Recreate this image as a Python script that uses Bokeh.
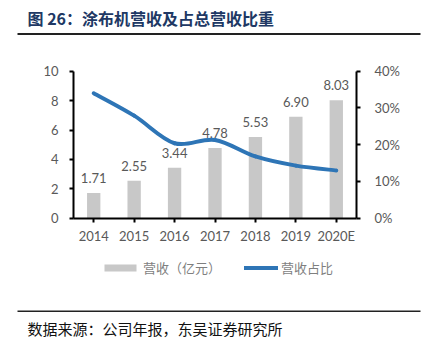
from bokeh.plotting import figure
from bokeh.models import (Range1d, LinearAxis, FixedTicker, PrintfTickFormatter,
                          Legend, LegendItem, ColumnDataSource)
from bokeh.core.properties import value
from bokeh.embed import file_html
from bokeh.resources import INLINE

years = ["2014", "2015", "2016", "2017", "2018", "2019", "2020E"]
revenue = [1.71, 2.55, 3.44, 4.78, 5.53, 6.90, 8.03]
share_pct = [34.0, 27.9, 20.4, 21.3, 16.8, 14.3, 13.0]
revenue_labels = ["1.71", "2.55", "3.44", "4.78", "5.53", "6.90", "8.03"]
left_ticks = [0, 2, 4, 6, 8, 10]
right_ticks = [0, 10, 20, 30, 40]

title_text = "图 26：涂布机营收及占总营收比重"
source_text = "数据来源：公司年报，东吴证券研究所"
legend_bar = "营收（亿元）"
legend_line = "营收占比"

W, H = 423, 352
# plot area (pixels on the page)
AX_L, AX_R, AX_T, AX_B = 73.0, 356.0, 70.7, 217.7
NCAT = len(years)
YMAX_L, YMAX_R = 10.0, 40.0

NUM_FONT = "Lato"
CJK_FONT = "Noto Sans CJK SC"
TICK_COLOR = "#595959"
BAR_COLOR = "#C8C8C8"
LINE_COLOR = "#2E75B6"

ux = NCAT / (AX_R - AX_L)        # data units per pixel (x)
uy = YMAX_L / (AX_B - AX_T)      # data units per pixel (left y)

def xd(px):
    return (px - AX_L) * ux

def yd(py):
    return (AX_B - py) * uy

p = figure(width=W, height=H, x_range=Range1d(xd(0), xd(W)), y_range=Range1d(yd(H), yd(0)),
           output_backend="svg", toolbar_location=None,
           min_border=0, x_axis_type=None, y_axis_type=None)
p.title.visible = False
p.extra_y_ranges = {"pct": Range1d(yd(H) * YMAX_R / YMAX_L, yd(0) * YMAX_R / YMAX_L)}
p.outline_line_color = None
p.xgrid.grid_line_color = None
p.ygrid.grid_line_color = None
p.background_fill_color = "white"
p.border_fill_color = "white"

xc = [i + 0.5 for i in range(NCAT)]
src = ColumnDataSource(dict(x=xc, rev=revenue, lab=revenue_labels))
bars = p.vbar(x="x", top="rev", width=0.33, source=src, fill_color=BAR_COLOR, line_color=None)
p.text(x="x", y="rev", text="lab", source=src, text_align="center", text_baseline="bottom",
       y_offset=-10, text_font=value(NUM_FONT), text_font_size="13px", text_color=TICK_COLOR)

# smooth curve (Catmull-Rom style bezier segments through the data points)
ys = share_pct
n = len(xc)
seg = dict(x0=[], y0=[], x1=[], y1=[], cx0=[], cy0=[], cx1=[], cy1=[])
for i in range(n - 1):
    xa, ya = xc[i], ys[i]
    xb, yb = xc[i + 1], ys[i + 1]
    xp, yp = (xc[i - 1], ys[i - 1]) if i > 0 else (xa, ya)
    xn, yn = (xc[i + 2], ys[i + 2]) if i + 2 < n else (xb, yb)
    seg["x0"].append(xa); seg["y0"].append(ya)
    seg["x1"].append(xb); seg["y1"].append(yb)
    seg["cx0"].append(xa + (xb - xp) / 6); seg["cy0"].append(ya + (yb - yp) / 6)
    seg["cx1"].append(xb - (xn - xa) / 6); seg["cy1"].append(yb - (yn - ya) / 6)
curve = p.bezier(source=ColumnDataSource(seg), x0="x0", y0="y0", x1="x1", y1="y1",
                 cx0="cx0", cy0="cy0", cx1="cx1", cy1="cy1", y_range_name="pct",
                 line_color=LINE_COLOR, line_width=4, line_cap="round")

def style_axis(ax):
    ax.axis_line_color = "black"
    ax.axis_line_width = 2
    ax.major_tick_line_color = "black"
    ax.major_tick_line_width = 2
    ax.major_tick_in = 0
    ax.major_tick_out = 4
    ax.minor_tick_line_color = None
    ax.major_label_text_font = NUM_FONT
    ax.major_label_text_font_size = "13px"
    ax.major_label_text_color = TICK_COLOR

xaxis = LinearAxis(ticker=FixedTicker(ticks=xc), fixed_location=0, bounds=(0, NCAT),
                   major_label_overrides={x: y for x, y in zip(xc, years)})
style_axis(xaxis)
xaxis.major_label_standoff = 6
p.add_layout(xaxis, "below")

ly = LinearAxis(ticker=FixedTicker(ticks=left_ticks), fixed_location=0, bounds=(0, YMAX_L))
style_axis(ly)
ly.major_label_standoff = 11
p.add_layout(ly, "left")

ry = LinearAxis(y_range_name="pct", ticker=FixedTicker(ticks=right_ticks),
                formatter=PrintfTickFormatter(format="%d%%"), fixed_location=NCAT,
                bounds=(0, YMAX_R))
style_axis(ry)
ry.major_label_standoff = 14
p.add_layout(ry, "right")

# legends (screen location relative to the bottom-left of the page)
lg1 = Legend(items=[LegendItem(label=legend_bar, renderers=[bars])], location=(100, H - 277),
             glyph_width=40, glyph_height=9, label_standoff=3)
lg2 = Legend(items=[LegendItem(label=legend_line, renderers=[curve])], location=(244, H - 277),
             glyph_width=34, glyph_height=9, label_standoff=3)
for lg in (lg1, lg2):
    lg.orientation = "horizontal"
    lg.background_fill_alpha = 0
    lg.border_line_color = None
    lg.padding = 0
    lg.margin = 0
    lg.label_text_font = CJK_FONT
    lg.label_text_font_size = "13px"
    lg.label_text_color = "#7F7F7F"
    lg.label_height = 9
    p.add_layout(lg, "center")

# title, rules and source
p.text(x=[xd(27)], y=[yd(17)], text=[title_text], text_font=value(CJK_FONT), text_font_size="16px",
       text_font_style="bold", text_color="#203864", text_baseline="middle")
p.segment(x0=[xd(17), xd(17)], y0=[yd(33.5), yd(310.7)], x1=[xd(420), xd(420)],
          y1=[yd(33.5), yd(310.7)], line_color="#222222", line_width=[2, 1.5])
p.text(x=[xd(27)], y=[yd(328)], text=[source_text], text_font=value(CJK_FONT), text_font_size="15px",
       text_color="#111111", text_baseline="middle")

open("out.html", "w").write(file_html(p, INLINE))
